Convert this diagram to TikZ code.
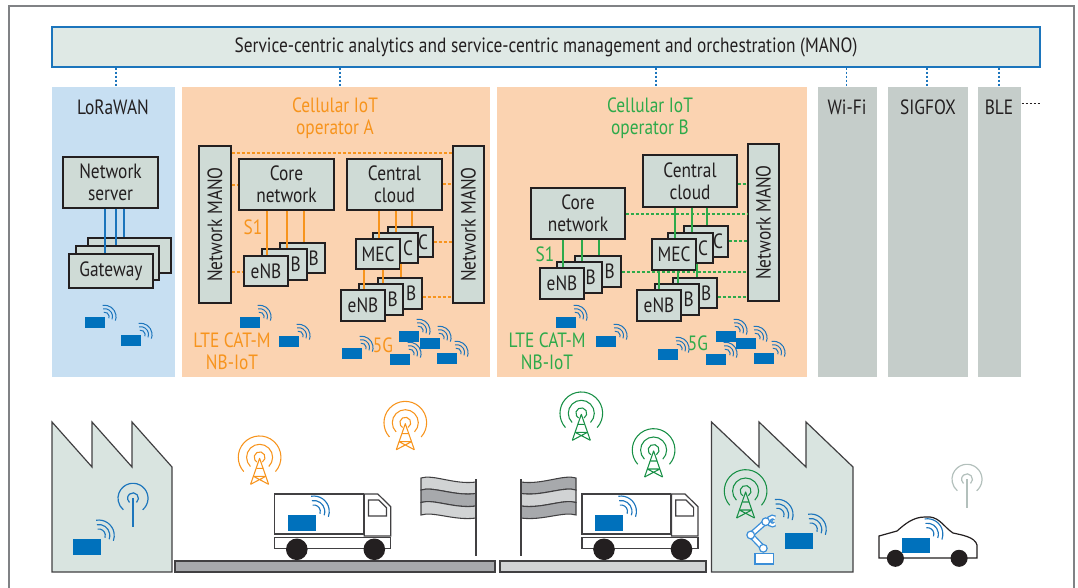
\documentclass[tikz,border=0pt]{standalone}
\usepackage{fontspec}
\setmainfont[FakeStretch=0.84]{PT Sans}
\usetikzlibrary{calc}

\definecolor{ink}{HTML}{231F20}
\definecolor{framegray}{HTML}{808285}
\definecolor{barfill}{HTML}{DFE9E5}
\definecolor{manoblue}{HTML}{1C75BC}
\definecolor{lorafill}{HTML}{C7DFF2}
\definecolor{peach}{HTML}{FBD3B1}
\definecolor{grayfill}{HTML}{C5CDCA}
\definecolor{boxfill}{HTML}{CFDBD6}
\definecolor{orA}{HTML}{F7941D}
\definecolor{grB}{HTML}{2EAA4A}
\definecolor{towergreen}{HTML}{178F45}
\definecolor{devblue}{HTML}{0071BC}
\definecolor{waveblue}{HTML}{1C75BC}
\definecolor{factfill}{HTML}{D9E4E0}
\definecolor{roadA}{HTML}{A7A9AC}
\definecolor{roadB}{HTML}{D1D3D4}
\definecolor{outline}{HTML}{414042}
\definecolor{antgray}{HTML}{B3C0BC}
\definecolor{robotblue}{HTML}{3B8ED8}

\newcommand\fs{\fontsize{15.5}{16.2}\selectfont}
% box from corner (x0,y0) to (x1,y1) in pixel units: [style]{name}{x0}{y0}{x1}{y1}{text}
\newcommand\rbox[7][]{\node[nbox,#1,minimum width={(#5-#3)*0.75pt},minimum height={(#6-#4)*0.75pt}] (#2) at ({(#3+#5)/2},{(#4+#6)/2}) {#7};}
% the letter left visible on a partly covered box: {box}{letter}{distance from right edge}
\newcommand\peek[3]{\node[lbl] (#1t) at ([xshift={-#3*0.75pt}]#1.east) {#2};}

% three-striped flag with its pole at x=476
\newcommand\flagdraw[3]{%
  \draw[outline,line width=0.8pt,fill=#1] (421,478) .. controls (433,474) and (455,485) .. (476,482) -- (476,493.5) .. controls (455,496.5) and (433,486) .. (421,490) -- cycle;
  \draw[outline,line width=0.8pt,fill=#2] (421,490) .. controls (433,486) and (455,496.5) .. (476,493.5) -- (476,506) .. controls (455,509) and (433,498.5) .. (421,502.5) -- cycle;
  \draw[outline,line width=0.8pt,fill=#3] (421,502.5) .. controls (433,498.5) and (455,509) .. (476,506) -- (476,518) .. controls (455,521) and (433,511) .. (421,515) -- cycle;
  \draw[outline,line width=0.9pt] (476,479) -- (476,556);}

% delivery truck with its top-left corner at the origin
\newcommand\truckdraw{%
  \draw[outline,line width=0.9pt,fill=white] (0,0) rectangle (88.5,40);
  \draw[outline,line width=0.9pt,fill=white] (89.5,0) -- (103,0) -- (116,12.7) -- (116,42) -- (89.5,42) -- cycle;
  \draw[outline,line width=0.9pt] (93.7,6) -- (104,6) -- (111.6,13.7) -- (111.6,22) -- (93.7,22) -- cycle;
  \draw[outline,line width=0.9pt,fill=white] (0,43.3) rectangle (116,54.3);
  \fill[ink] (22,55.3) circle[radius=8.1pt];
  \fill[ink] (99.5,55.3) circle[radius=8.1pt];
  \pic at (13.2,21) {bdev};}

\tikzset{
  nbox/.style={draw=ink, fill=boxfill, line width=0.85pt, inner sep=0pt, align=center, text=ink, font=\fs},
  colst/.style={draw=none, inner sep=0pt},
  bar/.style={fill=barfill, draw=manoblue, line width=0.9pt},
  lbl/.style={inner sep=0pt, align=center, text=ink, font=\fs},
  mdots/.style={manoblue, line width=0.8pt, dash pattern=on 1.6pt off 1.4pt},
  odots/.style={orA, line width=0.8pt, dash pattern=on 2.2pt off 1.6pt},
  gdots/.style={grB, line width=0.8pt, dash pattern=on 2.2pt off 1.6pt},
  oline/.style={orA, line width=0.8pt},
  gline/.style={grB, line width=0.8pt},
  bline/.style={waveblue, line width=0.8pt},
  sdev/.pic={
    \fill[devblue] (0,0) rectangle (20,10.5);
    \foreach \rad in {3.4,6,8.6}{\draw[waveblue,line width=0.75pt] (19.6,-0.3) ++(100:\rad pt) arc[start angle=100,end angle=-20,radius=\rad pt];}
  },
  bwaves/.pic={
    \foreach \rad in {4.9,8.25,11.6}{\draw[waveblue,line width=0.85pt] (0,0) ++(100:\rad pt) arc[start angle=100,end angle=-20,radius=\rad pt];}
  },
  bdev/.pic={
    \fill[devblue] (0,0) rectangle (28,15.5);
    \pic at (25.8,-3.5) {bwaves};
  },
  tower/.pic={
    \draw[line width=0.8pt] (0,0) ++(-60:4.1pt) arc[start angle=-60,end angle=240,radius=4.1pt];
    \draw[line width=0.8pt] (0,0) ++(-45:9.75pt) arc[start angle=-45,end angle=225,radius=9.75pt];
    \draw[line width=0.8pt] (0,0) ++(-42:16pt) arc[start angle=-42,end angle=222,radius=16pt];
    \draw[line width=0.8pt,line join=round] (-9,27) -- (0,1) -- (9,27);
    \draw[line width=0.8pt] (-3.3,11) -- (3.3,11) (-6.2,19) -- (6.2,19) (-6.2,19) -- (9,27) (6.2,19) -- (-9,27);
  },
  ant/.pic={
    \draw[line width=0.9pt] (0,0) ++(-50:4.1pt) arc[start angle=-50,end angle=230,radius=4.1pt];
    \draw[line width=0.9pt] (0,0) ++(-50:11.25pt) arc[start angle=-50,end angle=230,radius=11.25pt];
    \draw[line width=0.9pt] (0,0) -- (0,29);
  }
}

\begin{document}
\begin{tikzpicture}[x=0.75pt,y=-0.75pt]
\useasboundingbox (0,0) rectangle (1078,588);
\draw[framegray,line width=1.1pt] (9,592) -- (9,6) -- (1074,6) -- (1074,592);

% orchestration bar and technology columns
\rbox[bar]{mano}{52}{27}{1040}{67}{Service-centric analytics and service-centric management and orchestration (MANO)}
\rbox[colst,fill=lorafill]{colLora}{52}{87}{175}{377}{}
\rbox[colst,fill=peach]{colA}{182}{87}{490}{377}{}
\rbox[colst,fill=peach]{colB}{497}{87}{807}{377}{}
\rbox[colst,fill=grayfill]{colWifi}{818}{87}{877}{377}{}
\rbox[colst,fill=grayfill]{colSig}{888}{87}{968}{377}{}
\rbox[colst,fill=grayfill]{colBle}{978}{87}{1021}{377}{}
\foreach \x/\c in {116/colLora,340/colA,656/colB,846.5/colWifi,927/colSig,999/colBle}
  \draw[mdots] (\x,0 |- mano.south) -- (\x,0 |- \c.north);

\node[lbl] (tLora) at (113,107) {LoRaWAN};
\node[lbl,text=orA] (tA) at (335,118) {Cellular IoT\\operator A};
\node[lbl,text=grB] (tB) at (650,118) {Cellular IoT\\operator B};
\node[lbl] (tWifi) at (847,107) {Wi-Fi};
\node[lbl] (tSig) at (928,107) {SIGFOX};
\node[lbl] (tBle) at (999,107) {BLE};
\draw[ink,line width=0.6pt,dash pattern=on 1.5pt off 1.5pt] (colBle.east |- 0,103) -- (1041,103);

% LoRaWAN
\rbox{nsrv}{63}{157}{158}{208}{Network\\server}
\rbox{gw3}{88}{238}{171}{273}{}
\rbox{gw2}{76}{246}{159}{280}{}
\rbox{gw1}{69}{254}{153}{288}{Gateway}
\draw[bline] (105,0 |- nsrv.south) -- (105,0 |- gw1.north);
\draw[bline] (116,0 |- nsrv.south) -- (116,0 |- gw2.north);
\draw[bline] (124,0 |- nsrv.south) -- (124,0 |- gw3.north);
\pic at (85,317) {sdev};
\pic at (121,335) {sdev};

% operator A
\rbox{manoAL}{199}{146}{231}{303}{}
\node[lbl,rotate=90] (manoALt) at (manoAL) {Network MANO};
\rbox{manoAR}{453}{146}{484}{303}{}
\node[lbl,rotate=90] (manoARt) at (manoAR) {Network MANO};
\rbox{coreA}{239}{159}{334}{210}{Core\\network}
\rbox{cloudA}{347}{159}{442}{210}{Central\\cloud}
\rbox{enbA13}{280}{243}{325}{273}{}
\rbox{enbA12}{262}{249}{307}{280}{}
\rbox{enbA11}{244}{256}{288}{286}{eNB}
\rbox{mecA3}{388}{227}{433}{257}{}
\rbox{mecA2}{373}{233}{418}{263}{}
\rbox{mecA1}{356}{239}{400}{269}{MEC}
\rbox{enbA23}{378}{278}{422}{309}{}
\rbox{enbA22}{359}{284}{403}{315}{}
\rbox{enbA21}{341}{290}{385}{321}{eNB}
\peek{enbA13}{B}{12}\peek{enbA12}{B}{12}
\peek{mecA3}{C}{10.5}\peek{mecA2}{C}{10.5}
\peek{enbA23}{B}{11.5}\peek{enbA22}{B}{11}
\draw[oline] (267,0 |- coreA.south) -- (267,0 |- enbA11.north);
\draw[oline] (287,0 |- coreA.south) -- (287,0 |- enbA12.north);
\draw[oline] (304,0 |- coreA.south) -- (304,0 |- enbA13.north);
\draw[oline] (379,0 |- cloudA.south) -- (379,0 |- mecA1.north);
\draw[oline] (396,0 |- cloudA.south) -- (396,0 |- mecA2.north);
\draw[oline] (412,0 |- cloudA.south) -- (412,0 |- mecA3.north);
\draw[oline] (364,0 |- mecA1.south) -- (364,0 |- enbA21.north);
\draw[oline] (383,0 |- mecA1.south) -- (383,0 |- enbA22.north);
\draw[oline] (401,0 |- mecA2.south) -- (401,0 |- enbA23.north);
\draw[odots] (manoAL.east |- 0,153) -- (manoAR.west |- 0,153);
\draw[odots] (manoAL.east |- 0,185) -- (coreA.west |- 0,185);
\draw[odots] (cloudA.east |- 0,184) -- (manoAR.west |- 0,184);
\draw[odots] (manoAL.east |- 0,272) -- (enbA11.west |- 0,272);
\draw[odots] (mecA3.east |- 0,242) -- (manoAR.west |- 0,242);
\draw[odots] (enbA23.east |- 0,297) -- (manoAR.west |- 0,297);
\node[lbl,text=orA] (s1A) at (253,227) {S1};
\node[lbl,text=orA] (lteA) at (232,351) {LTE CAT-M\\NB-IoT};
\node[lbl,text=orA] (fgA) at (383,345) {5G};
\foreach \p in {(240,317),(279,336),(342,348),(399,331),(420,338),(390,354),(437,353)}
  \pic at \p {sdev};

% operator B
\rbox{manoB}{748}{144}{779}{301}{}
\node[lbl,rotate=90] (manoBt) at (manoB) {Network MANO};
\rbox{cloudB}{643}{155}{737}{207}{Central\\cloud}
\rbox{coreB}{531}{188}{625}{239}{Core\\network}
\rbox{enbB13}{575}{256}{621}{287}{}
\rbox{enbB12}{557}{262}{602}{293}{}
\rbox{enbB11}{540}{268}{584}{299}{eNB}
\rbox{mecB3}{684}{226}{728}{257}{}
\rbox{mecB2}{668}{233}{713}{263}{}
\rbox{mecB1}{652}{239}{696}{270}{MEC}
\rbox{enbB23}{673}{278}{717}{308}{}
\rbox{enbB22}{655}{284}{699}{315}{}
\rbox{enbB21}{637}{290}{681}{321}{eNB}
\peek{enbB13}{B}{12}\peek{enbB12}{B}{12}
\peek{mecB3}{C}{10.5}\peek{mecB2}{C}{10.5}
\peek{enbB23}{B}{11.5}\peek{enbB22}{B}{11}
\draw[gline] (563,0 |- coreB.south) -- (563,0 |- enbB11.north);
\draw[gline] (582,0 |- coreB.south) -- (582,0 |- enbB12.north);
\draw[gline] (599,0 |- coreB.south) -- (599,0 |- enbB13.north);
\draw[gline] (675,0 |- cloudB.south) -- (675,0 |- mecB1.north);
\draw[gline] (692,0 |- cloudB.south) -- (692,0 |- mecB2.north);
\draw[gline] (707,0 |- cloudB.south) -- (707,0 |- mecB3.north);
\draw[gline] (659,0 |- mecB1.south) -- (659,0 |- enbB21.north);
\draw[gline] (678,0 |- mecB1.south) -- (678,0 |- enbB22.north);
\draw[gline] (697,0 |- mecB2.south) -- (697,0 |- enbB23.north);
\draw[gdots] (cloudB.east |- 0,184) -- (manoB.west |- 0,184);
\draw[gdots] (coreB.east |- 0,214) -- (manoB.west |- 0,214);
\draw[gdots] (mecB3.east |- 0,241) -- (manoB.west |- 0,241);
\draw[gdots] (enbB13.east |- 0,272) -- (manoB.west |- 0,272);
\draw[gdots] (enbB23.east |- 0,297) -- (manoB.west |- 0,297);
\node[lbl,text=grB] (s1B) at (545,254) {S1};
\node[lbl,text=grB] (lteB) at (547,351) {LTE CAT-M\\NB-IoT};
\node[lbl,text=grB] (fgB) at (698,343) {5G};
\foreach \p in {(556,317),(596,336),(658,349),(716,331),(736,338),(706,354),(754,353)}
  \pic at \p {sdev};

% ground scene: roads and flags
\draw[outline,line width=0.8pt,fill=roadA] (175,561) rectangle (495,572);
\draw[outline,line width=0.8pt,fill=roadB] (500,561) rectangle (706,572);
\flagdraw{roadB}{roadA}{roadB}
\begin{scope}[shift={(997,0)},xscale=-1]
  \flagdraw{roadA}{roadB}{roadA}
\end{scope}

% factories
\draw[outline,line width=0.9pt,fill=factfill] (52,572) -- (52,422) -- (92,467) -- (92,422) -- (132,467) -- (132,422) -- (172,467) -- (172,572) -- cycle;
\draw[outline,line width=0.9pt,fill=factfill] (711.5,572) -- (711.5,422) -- (759,467) -- (759,422) -- (806,467) -- (806,422) -- (853,467) -- (853,572) -- cycle;
\pic[waveblue] at (133,498.3) {ant};
\pic at (73,539) {bdev};

% trucks
\begin{scope}[shift={(274.8,494)}]\truckdraw\end{scope}
\begin{scope}[shift={(582,494)}]\truckdraw\end{scope}

% base stations
\pic[orA] at (259.6,457.3) {tower};
\pic[orA] at (405.3,422.7) {tower};
\pic[towergreen] at (581.3,413.3) {tower};
\pic[towergreen] at (653.6,450) {tower};
\pic[towergreen] at (745.6,491) {tower};

% robot arm in the second factory
\draw[robotblue,line width=4.4pt,line cap=round,line join=round] (763.3,548.3) -- (750.7,535) -- (765.7,521.7) -- (770,521);
\draw[white,line width=2.4pt,line cap=round,line join=round] (763.3,548.3) -- (750.7,535) -- (765.7,521.7) -- (770,521);
\draw[robotblue,line width=3.6pt] (772.5,521) ++(50:3pt) arc[start angle=50,end angle=310,radius=3pt];
\draw[white,line width=1.6pt] (772.5,521) ++(50:3pt) arc[start angle=50,end angle=310,radius=3pt];
\foreach \p in {(763.3,548.3),(750.7,535),(765.7,521.7)}
  \draw[robotblue,fill=white,line width=0.9pt] \p circle[radius=2.9pt];
\draw[robotblue,fill=white,line width=1pt] (755,553.3) rectangle (773.3,564);
\pic at (777.6,514.8) {bwaves};
\pic at (785,533) {bdev};

% car
\draw[ink,line width=0.9pt,fill=white] (879,558) -- (879,536) -- (897,531) .. controls (905,524) and (913,517) .. (925,517) -- (930,517) .. controls (940,518) and (945,528) .. (953,533) .. controls (962,535) and (975,537) .. (977,545) -- (977,558) -- cycle;
\fill[ink] (895.4,558.3) circle[radius=6.4pt];
\fill[ink] (959.1,558.3) circle[radius=6.4pt];
\pic at (901.6,537.7) {bdev};
\pic[antgray] at (967,479.3) {ant};
\end{tikzpicture}
\end{document}
